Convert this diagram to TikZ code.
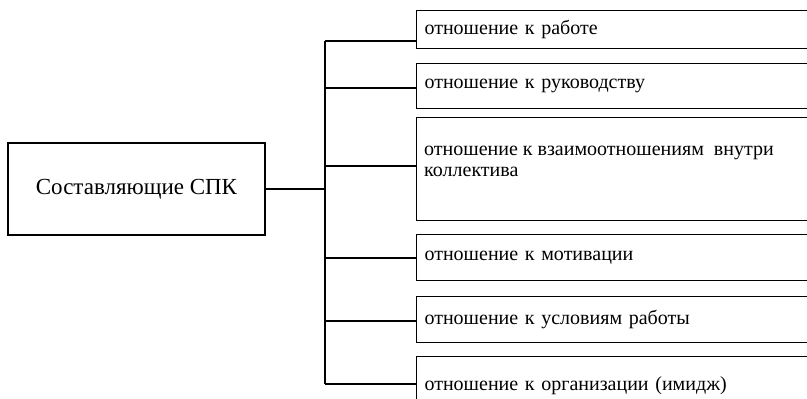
\documentclass[tikz,border=0pt]{standalone}
\usepackage{fontspec}
\setmainfont{Liberation Serif}
\usepackage{tikz}
\usetikzlibrary{positioning}

\tikzset{
	rbox/.style={draw=black, line width=1.1pt, anchor=north west, minimum width=430pt, text width=414pt, inner xsep=8pt, inner ysep=0pt, align=left, font=\fontsize{20}{21}\selectfont},
	rtxt/.style={anchor=west, inner sep=0pt, align=left, font=\fontsize{20}{21}\selectfont},
	lbox/.style={draw=black, line width=1.1pt, minimum width=257pt, minimum height=92pt, font=\fontsize{23}{26}\selectfont},
	conn/.style={draw=black, line width=1.1pt}
}

\begin{document}
\begin{tikzpicture}[x=1pt, y=-1pt]
		\useasboundingbox (0,0) rectangle (807,399);
		\clip (0,0) rectangle (807,399);
		\node[lbox] (spk) at (136.5,189) {Составляющие СПК};
		
		\node[rbox, minimum height=38pt] (b1) at (416,10) {отношение к работе};
		\node[rbox, minimum height=45pt] (b2) at (416,63) {отношение к руководству};
		\node[rbox, minimum height=103pt] (b3) at (416,117) {};
		\node[rtxt] (t3) at ([xshift=8pt, yshift=8pt]b3.west) {отношение к взаимоотношениям\ \ внутри\\коллектива};
		\node[rbox, minimum height=46pt] (b4) at (416,234) {отношение к мотивации};
		\node[rbox, minimum height=46pt] (b5) at (416,296) {отношение к условиям работы};
		\node[rbox, minimum height=58pt] (b6) at (416,356) {отношение к организации (имидж)};
		
		\coordinate (j1) at (325,41);
		\coordinate (j2) at (325,88);
		\coordinate (j3) at (325,166);
		\coordinate (j4) at (325,258);
		\coordinate (j5) at (325,321);
		\coordinate (j6) at (325,384);
		
		\draw[conn] (j1) -- (j6);
		\draw[conn] (spk.east) -- (spk.east -| j1);
		\draw[conn] (j1) -- (j1 -| b1.west);
		\draw[conn] (j2) -- (j2 -| b2.west);
		\draw[conn] (j3) -- (j3 -| b3.west);
		\draw[conn] (j4) -- (j4 -| b4.west);
		\draw[conn] (j5) -- (j5 -| b5.west);
		\draw[conn] (j6) -- (j6 -| b6.west);
\end{tikzpicture}
\end{document}
